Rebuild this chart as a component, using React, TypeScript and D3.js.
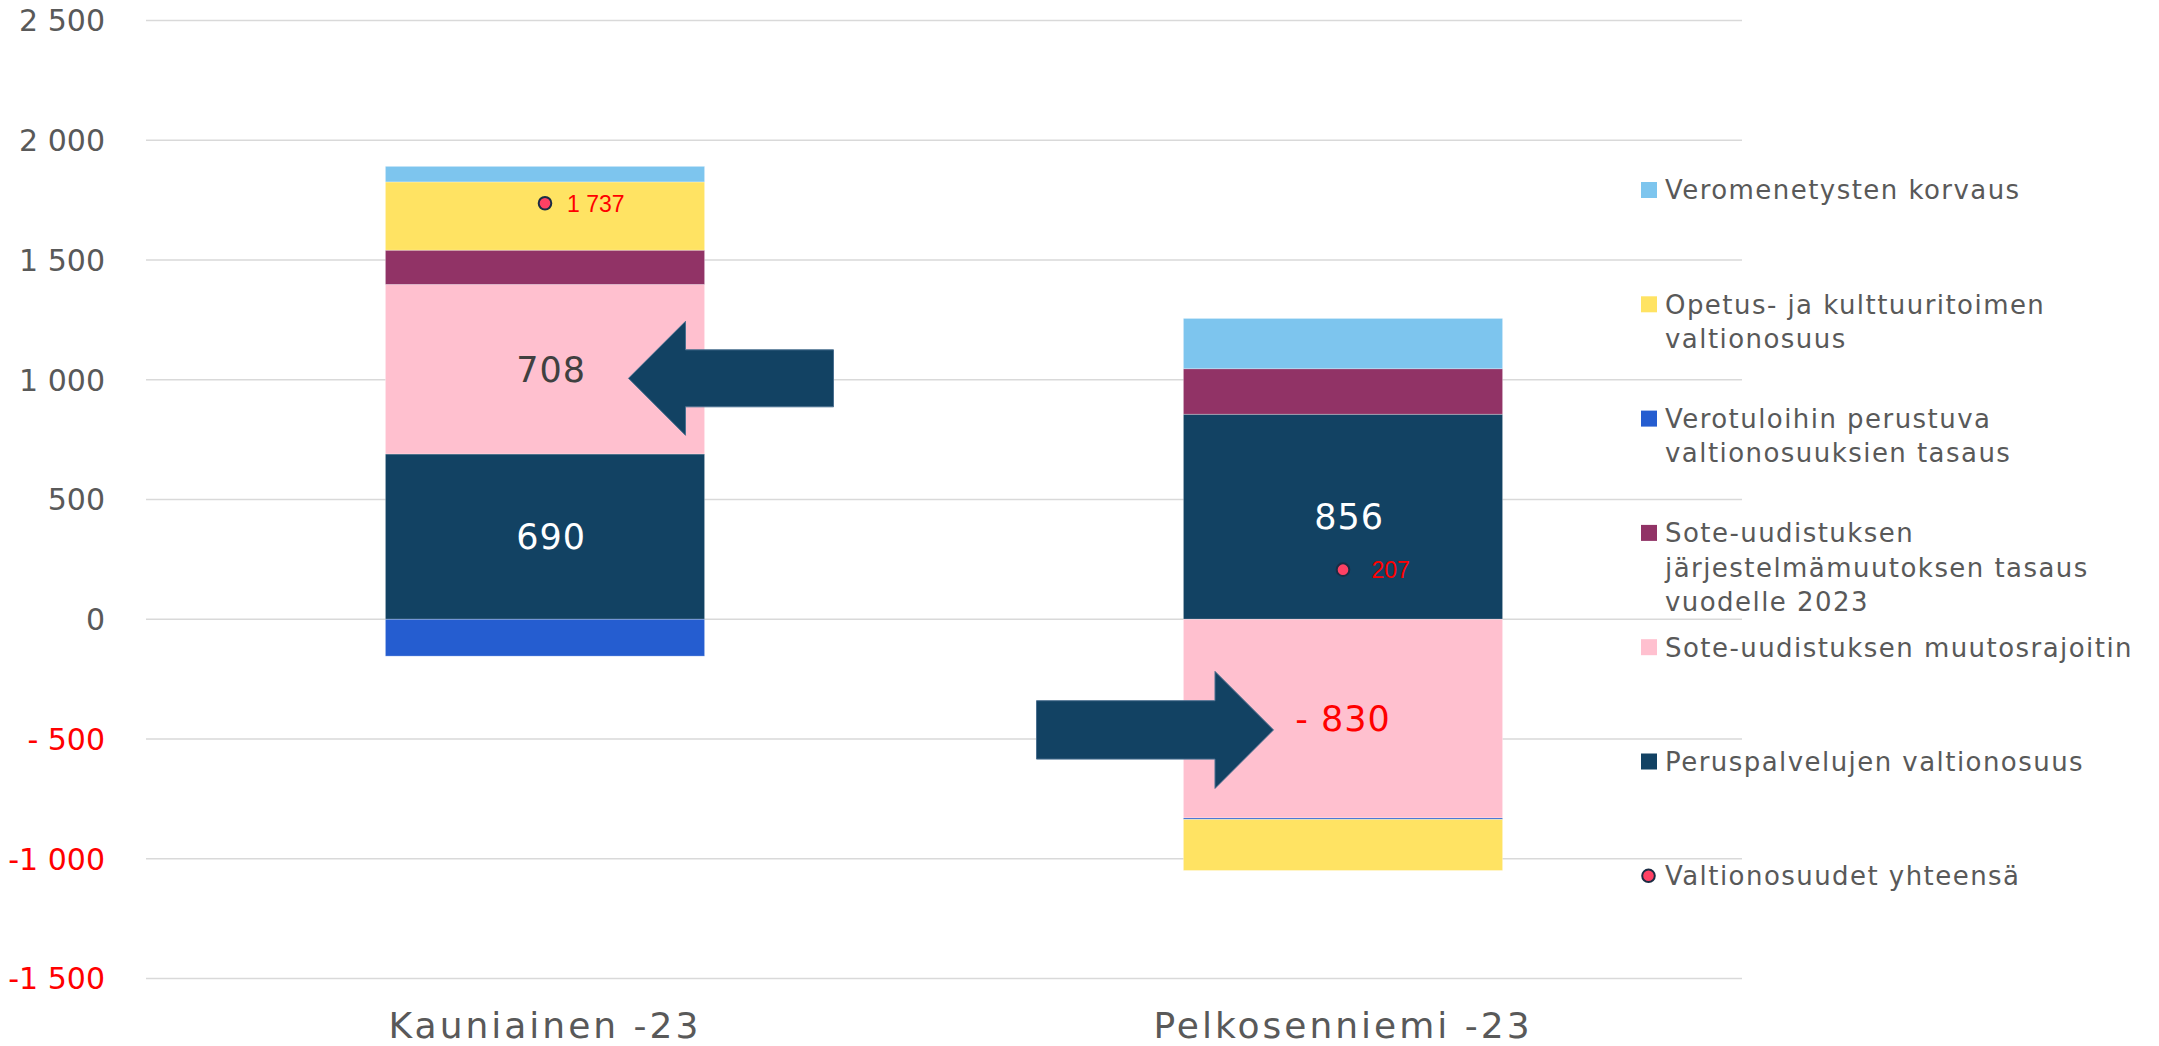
import React from "react";
import * as d3 from "d3";

// ---------- data ----------
const CATEGORIES = ["Kauniainen -23", "Pelkosenniemi -23"];

// stacked series, in stacking order (bottom first)
const SERIES_KEYS = ["perus", "muutos", "jarj", "verotulo", "opetus", "veromen"];
const SERIES_NAMES = [
  "Peruspalvelujen valtionosuus",
  "Sote-uudistuksen muutosrajoitin",
  "Sote-uudistuksen järjestelmämuutoksen tasaus vuodelle 2023",
  "Verotuloihin perustuva valtionosuuksien tasaus",
  "Opetus- ja kulttuuritoimen valtionosuus",
  "Veromenetysten korvaus",
];
const PERUSPALVELUT = [690, 856];
const MUUTOSRAJOITIN = [708, -830];
const JARJESTELMAMUUTOS = [143, 190];
const VEROTULOTASAUS = [-154, -6];
const OPETUS = [285, -213];
const VEROMENETYS = [65, 210];
const TOTAL_NAME = "Valtionosuudet yhteensä";
const TOTALS = [1737, 207];

const Y_TICKS = [-1500, -1000, -500, 0, 500, 1000, 1500, 2000, 2500];

// which segments carry a value label
const LABELLED = [
  { cat: "Kauniainen -23", key: "perus" },
  { cat: "Kauniainen -23", key: "muutos" },
  { cat: "Pelkosenniemi -23", key: "perus" },
  { cat: "Pelkosenniemi -23", key: "muutos" },
];

// annotation arrows (value = vertical centre in data units)
const ARROWS = [
  { cat: "Kauniainen -23", value: 1006, dir: "left" },
  { cat: "Pelkosenniemi -23", value: -462, dir: "right" },
];

// legend (top to bottom) with its line wrapping
const LEGEND_ITEMS = [
  { key: "veromen", lines: ["Veromenetysten korvaus"] },
  { key: "opetus", lines: ["Opetus- ja kulttuuritoimen", "valtionosuus"] },
  { key: "verotulo", lines: ["Verotuloihin perustuva", "valtionosuuksien tasaus"] },
  { key: "jarj", lines: ["Sote-uudistuksen", "järjestelmämuutoksen tasaus", "vuodelle 2023"] },
  { key: "muutos", lines: ["Sote-uudistuksen muutosrajoitin"] },
  { key: "perus", lines: ["Peruspalvelujen valtionosuus"] },
  { key: "total", lines: [TOTAL_NAME] },
];

// ---------- styles ----------
const COLORS: Record<string, string> = {
  perus: "#124263",
  muutos: "#FFC0CF",
  jarj: "#913366",
  verotulo: "#255DD0",
  opetus: "#FFE363",
  veromen: "#7DC5EE",
};
const LABEL_COLORS: Record<string, string> = { perus: "#FFFFFF", muutos: "#404040" };
const DOT_FILL = "#FF4164";
const DOT_STROKE = "#1B2C44";
const TEXT = "#595959";
const GRID = "#D9D9D9";
const FONT = "'DejaVu Sans', sans-serif";

const W = 2159;
const H = 1046;

// Excel-like "# ##0" format: values under 1000 get a leading space
function fmt(v: number): string {
  const a = Math.abs(v);
  const body = a >= 1000 ? d3.format(",")(a).replace(/,/g, " ") : "\u00A0" + a;
  return (v < 0 ? "-" : "") + body;
}

export default function App() {
  const rows = CATEGORIES.map((c, i) => ({
    cat: c,
    perus: PERUSPALVELUT[i],
    muutos: MUUTOSRAJOITIN[i],
    jarj: JARJESTELMAMUUTOS[i],
    verotulo: VEROTULOTASAUS[i],
    opetus: OPETUS[i],
    veromen: VEROMENETYS[i],
    total: TOTALS[i],
  }));

  const x = d3
    .scaleBand<string>()
    .domain(CATEGORIES)
    .range([146, 1742])
    .paddingInner(0.6)
    .paddingOuter(0.3);
  const y = d3.scaleLinear().domain([-1500, 2500]).range([978.5, 20.5]);

  const stacked = d3
    .stack<any>()
    .keys(SERIES_KEYS)
    .offset(d3.stackOffsetDiverging)(rows);

  const bw = x.bandwidth();
  const cx = (c: string) => (x(c) as number) + bw / 2;

  const segOf = (cat: string, key: string) => {
    const s = stacked.find((ss) => ss.key === key)!;
    const i = CATEGORIES.indexOf(cat);
    return s[i];
  };

  const arrowPath = (a: { cat: string; value: number; dir: string }) => {
    const cy = y(a.value);
    if (a.dir === "left") {
      const tip = cx(a.cat) + 83.5;
      const head = 57, half = 57, sh = 28.5, len = 205;
      return `M${tip},${cy} L${tip + head},${cy - half} L${tip + head},${cy - sh} L${tip + len},${cy - sh} L${tip + len},${cy + sh} L${tip + head},${cy + sh} L${tip + head},${cy + half} Z`;
    }
    const tip = cx(a.cat) - 69.5;
    const head = 58.5, half = 58.5, sh = 29.2, len = 237;
    return `M${tip},${cy} L${tip - head},${cy - half} L${tip - head},${cy - sh} L${tip - len},${cy - sh} L${tip - len},${cy + sh} L${tip - head},${cy + sh} L${tip - head},${cy + half} Z`;
  };

  const legendX = 1641;
  const legendY0 = 190;
  const legendStep = 114.3;
  const lineStep = 34.4;

  return (
    <svg
      width={W}
      height={H}
      style={{ position: "absolute", left: 0, top: 0, background: "#fff" }}
      fontFamily={FONT}
    >
      {/* gridlines */}
      {Y_TICKS.map((t) => (
        <line key={"g" + t} x1={146} x2={1742} y1={y(t)} y2={y(t)} stroke={GRID} strokeWidth={1.4} />
      ))}
      {/* y tick labels */}
      {Y_TICKS.map((t) => (
        <text
          key={"t" + t}
          x={105}
          y={y(t)}
          dy="0.36em"
          textAnchor="end"
          fontSize={30}
          fill={t < 0 ? "#FF0000" : TEXT}
          style={{ whiteSpace: "pre" }}
        >
          {fmt(t)}
        </text>
      ))}

      {/* stacked bars */}
      {stacked.map((s) =>
        s.map((d, i) => {
          const y0 = y(d[0]);
          const y1 = y(d[1]);
          if (Math.abs(y1 - y0) < 0.01) return null;
          return (
            <rect
              key={s.key + i}
              x={x(CATEGORIES[i])}
              width={bw}
              y={Math.min(y0, y1)}
              height={Math.abs(y1 - y0)}
              fill={COLORS[s.key]}
              stroke="#ffffff"
              strokeOpacity={0.35}
              strokeWidth={0.8}
            />
          );
        })
      )}

      {/* segment labels */}
      {LABELLED.map((l) => {
        const d = segOf(l.cat, l.key);
        const i = CATEGORIES.indexOf(l.cat);
        const v = (rows[i] as any)[l.key] as number;
        const col = v < 0 ? "#FF0000" : LABEL_COLORS[l.key];
        return (
          <text
            key={"l" + l.cat + l.key}
            x={cx(l.cat)}
            y={y((d[0] + d[1]) / 2)}
            dy="0.36em"
            textAnchor="middle"
            fontSize={35}
            letterSpacing={1}
            fill={col}
            style={{ whiteSpace: "pre" }}
          >
            {fmt(v)}
          </text>
        );
      })}

      {/* arrows */}
      {ARROWS.map((a) => (
        <path key={"a" + a.cat} d={arrowPath(a)} fill="#124263" stroke="#4A6F8F" strokeWidth={1} />
      ))}

      {/* totals (dots) */}
      {rows.map((r) => (
        <g key={"dot" + r.cat}>
          <circle cx={cx(r.cat)} cy={y(r.total)} r={6.3} fill={DOT_FILL} stroke={DOT_STROKE} strokeWidth={2} />
          <text
            x={cx(r.cat) + 22}
            y={y(r.total)}
            dy="0.36em"
            fontFamily="'Liberation Sans', Arial, sans-serif"
            fontSize={23}
            fill="#FF0000"
            style={{ whiteSpace: "pre" }}
          >
            {fmt(r.total)}
          </text>
        </g>
      ))}

      {/* category labels */}
      {CATEGORIES.map((c) => (
        <text
          key={"c" + c}
          x={cx(c)}
          y={1038}
          textAnchor="middle"
          fontSize={36}
          letterSpacing={3}
          fill={TEXT}
        >
          {c}
        </text>
      ))}

      {/* legend */}
      {LEGEND_ITEMS.map((it, k) => {
        const yy = legendY0 + k * legendStep;
        return (
          <g key={"lg" + it.key}>
            {it.key === "total" ? (
              <circle cx={legendX + 7.5} cy={yy} r={6.3} fill={DOT_FILL} stroke={DOT_STROKE} strokeWidth={2} />
            ) : (
              <rect x={legendX} y={yy - 8} width={16} height={16} fill={COLORS[it.key]} />
            )}
            {it.lines.map((ln, j) => (
              <text
                key={j}
                x={legendX + 24}
                y={yy + j * lineStep}
                dy="0.36em"
                fontSize={26}
                letterSpacing={1.45}
                fill={TEXT}
              >
                {ln}
              </text>
            ))}
          </g>
        );
      })}
    </svg>
  );
}
